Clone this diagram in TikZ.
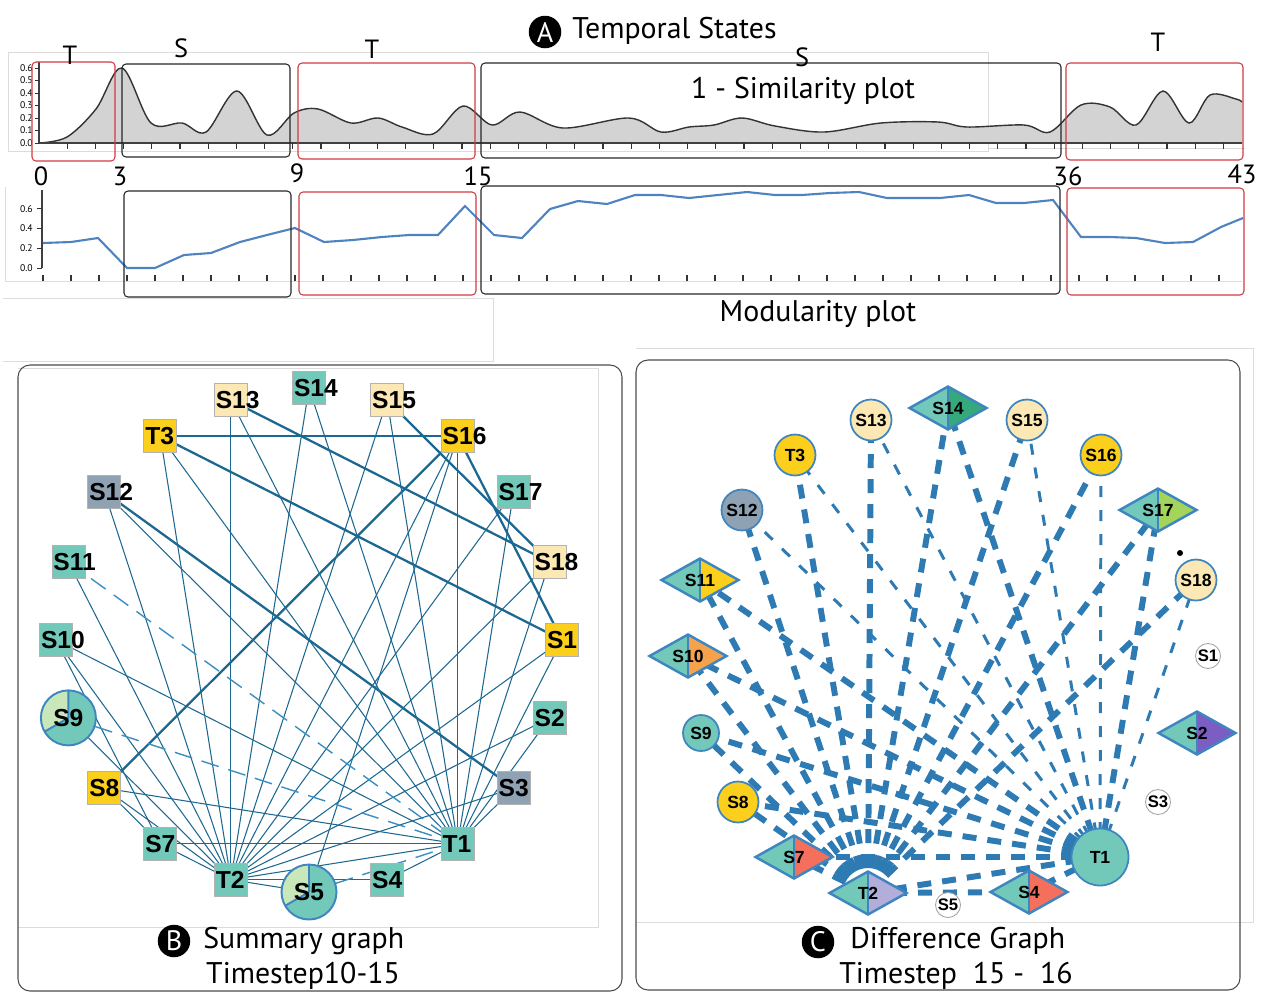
\documentclass[tikz,border=0pt]{standalone}
\usepackage{fontspec}
\setmainfont{PT Sans}
\newfontfamily\nodefont{Liberation Sans}
\usetikzlibrary{shapes.geometric,backgrounds}

\definecolor{cteal}{HTML}{72C9BA}
\definecolor{cgold}{HTML}{FBCF1C}
\definecolor{clyel}{HTML}{FCE8B4}
\definecolor{cgrey}{HTML}{8FA2B4}
\definecolor{cpale}{HTML}{C8E8BA}
\definecolor{cring}{HTML}{3F86C0}
\definecolor{bline}{HTML}{1D6891}
\definecolor{bdashcol}{HTML}{3A8EC2}
\definecolor{cline}{HTML}{2E7BB4}
\definecolor{corange}{HTML}{F6A24C}
\definecolor{cgreen}{HTML}{35A97B}
\definecolor{cgreenl}{HTML}{A3D45B}
\definecolor{cpurple}{HTML}{7C5DC3}
\definecolor{csalmon}{HTML}{F4705C}
\definecolor{clav}{HTML}{B3ADD9}
\definecolor{boxred}{HTML}{D03A42}
\definecolor{simgrey}{HTML}{D3D3D3}
\definecolor{modblue}{HTML}{4F83BF}
\definecolor{faint}{HTML}{DCDCDC}

\begin{document}
\begin{tikzpicture}[x=0.02cm, y=-0.02cm,
    captxt/.style={font=\fontsize{17}{20}\selectfont, inner sep=0},
    lettxt/.style={font=\fontsize{15}{18}\selectfont, inner sep=0},
    ylab/.style={font=\fontsize{5.5}{6}\selectfont, inner sep=0},
    badge/.style={circle, fill=black, text=white, minimum size=0.65cm, inner sep=0, font=\fontsize{16}{16}\selectfont},
    sbox/.style={draw=black!85, line width=0.6pt, rounded corners=0.08cm},
    tbox/.style={draw=boxred, line width=0.6pt, rounded corners=0.08cm},
    bsq/.style={rectangle, draw=gray!60, fill=cteal, minimum size=0.66cm, inner sep=0,
        font=\nodefont\bfseries\fontsize{14}{14}\selectfont},
    bpie/.style={circle, draw=cring, line width=1.1pt, fill=cteal, minimum size=1.1cm, inner sep=0,
        font=\nodefont\bfseries\fontsize{14}{14}\selectfont,
        path picture={
            \fill[cpale] (path picture bounding box.center) -- ++(90:0.6cm)
                arc[start angle=90, end angle=210, radius=0.6cm] -- cycle;
            \draw[cring, line width=1.1pt] (path picture bounding box.center) -- ++(90:0.6cm)
                (path picture bounding box.center) -- ++(210:0.6cm);}},
    bedge/.style={bline, line width=0.6pt},
    bthick/.style={bline, line width=1.3pt},
    bdashed/.style={bdashcol, line width=0.8pt, dash pattern=on 0.36cm off 0.2cm},
    ccirc/.style={circle, draw=cring, line width=1pt, minimum size=0.82cm, inner sep=0,
        font=\nodefont\bfseries\fontsize{10}{10}\selectfont},
    csmall/.style={circle, draw=gray!70, fill=white, line width=0.5pt, minimum size=0.5cm, inner sep=0,
        font=\nodefont\bfseries\fontsize{9.5}{10}\selectfont},
    cdia/.style={diamond, draw=cring, line width=1.4pt, fill=cteal, shape aspect=1.8,
        minimum width=1.56cm, minimum height=0.88cm, inner sep=0,
        font=\nodefont\bfseries\fontsize{10}{10}\selectfont,
        path picture={
            \fill[#1] (path picture bounding box.north) -- (path picture bounding box.east)
                -- (path picture bounding box.south) -- cycle;
            \draw[cring, line width=1.4pt] (path picture bounding box.north) -- (path picture bounding box.south);}},
    cthick/.style={cline, line width=3.4pt, dash pattern=on 0.28cm off 0.22cm},
    cthin/.style={cline, line width=1.7pt, dash pattern=on 0.22cm off 0.26cm}]
\useasboundingbox (0,0) rectangle (1264,992);

% screen-capture frames
\draw[faint] (8,52) rectangle (988,151);
\draw[faint] (988,148) -- (1245,148);
\draw[faint] (5,187) -- (5,281) -- (1242,281);
\draw[faint] (3,298) -- (493,298) -- (493,361) -- (3,361);
\draw[faint] (636,348) -- (1253,348) -- (1253,922) -- (636,922);
\draw[faint] (18,368) -- (598,368) -- (598,927) -- (18,927);

% A: temporal states
\node[badge] (badgeA) at (545,32) {A};
\node[captxt, anchor=west] (capA) at (572,31) {Temporal States};

\fill[simgrey] (39,143) -- plot[smooth, tension=0.55] coordinates {(39,143) (67,137) (96,109) (122,68)
    (151,123) (182,123) (206,132) (237,91) (267,135) (294,113) (318,109) (351,123) (378,118) (402,127)
    (433,134) (463,106) (492,125) (520,112) (563,128) (629,118) (661,132) (689,127) (714,125) (742,118)
    (775,126) (824,132) (881,123) (938,122) (967,127) (1024,125) (1050,132) (1081,105) (1110,107)
    (1136,125) (1163,91) (1189,123) (1210,95) (1236,99) (1242,102)} -- (1242,143) -- cycle;
\draw[black!80, line width=0.8pt] plot[smooth, tension=0.55] coordinates {(39,143) (67,137) (96,109) (122,68)
    (151,123) (182,123) (206,132) (237,91) (267,135) (294,113) (318,109) (351,123) (378,118) (402,127)
    (433,134) (463,106) (492,125) (520,112) (563,128) (629,118) (661,132) (689,127) (714,125) (742,118)
    (775,126) (824,132) (881,123) (938,122) (967,127) (1024,125) (1050,132) (1081,105) (1110,107)
    (1136,125) (1163,91) (1189,123) (1210,95) (1236,99) (1242,102)};
\draw[black!75, line width=0.8pt] (39,143) -- (1242,143);
\draw[black!75, line width=0.6pt] (39,62) -- (39,143);
\foreach \k in {1,...,42}
    \draw[black!80, line width=0.6pt] ({39+28.2*\k},143) -- ({39+28.2*\k},149);
\foreach \k in {0,...,6} {
    \draw[black!80, line width=0.5pt] (35,{143-12.5*\k}) -- (39,{143-12.5*\k});
    \node[ylab, anchor=east] (sy\k) at (33,{143-12.5*\k}) {0.\k};
}

\draw[tbox] (32,62) rectangle (115,161);
\draw[sbox] (122,64) rectangle (290,157);
\draw[tbox] (298,63) rectangle (475,159);
\draw[sbox] (481,63) rectangle (1061,158);
\draw[tbox] (1066,63) rectangle (1243,160);

\node[lettxt] (st1) at (70,55) {T};
\node[lettxt] (st2) at (181,48) {S};
\node[lettxt] (st3) at (372,49) {T};
\node[lettxt] (st4) at (802,57) {S};
\node[lettxt] (st5) at (1158,42) {T};
\node[captxt] (simcap) at (803,91) {1 - Similarity plot};

\node[lettxt] (n0) at (41,176) {0};
\node[lettxt] (n3) at (120,176) {3};
\node[lettxt] (n9) at (297,173) {9};
\node[lettxt] (n15) at (478,176) {15};
\node[lettxt] (n36) at (1068,176) {36};
\node[lettxt] (n43) at (1242,174) {43};

% modularity
\draw[black!75, line width=0.6pt] (42,190) -- (42,268);
\foreach \k/\v in {0/0.0,1/0.2,2/0.4,3/0.6} {
    \draw[black!80, line width=0.5pt] (37,{268-19.7*\k}) -- (42,{268-19.7*\k});
    \node[ylab, anchor=east] (my\k) at (33,{268-19.7*\k}) {\v};
}
\foreach \k in {0,...,42}
    \draw[black!80, line width=0.6pt] ({43+28*\k},281) -- ({43+28*\k},275);
\draw[modblue, line width=1.2pt] plot coordinates {(43,243) (71,242) (98,238) (127,268) (155,268)
    (184,255) (211,253) (240,242) (267,235) (295,228) (324,242) (353,240) (382,237) (409,235) (438,235)
    (465,206) (494,235) (522,238) (550,209) (578,201) (607,204) (635,195) (661,195) (689,198) (718,195)
    (747,192) (775,195) (802,195) (830,193) (859,192) (887,198) (914,198) (940,198) (969,195) (996,203)
    (1024,203) (1053,200) (1081,237) (1110,237) (1136,238) (1165,243) (1193,242) (1221,227) (1243,218)};

\draw[sbox] (124,191) rectangle (291,297);
\draw[tbox] (299,192) rectangle (476,295);
\draw[sbox] (481,186) rectangle (1060,294);
\draw[tbox] (1067,188) rectangle (1244,295);
\node[captxt] (modcap) at (818,314) {Modularity plot};

% B: summary graph
\draw[black!70, line width=0.6pt, rounded corners=0.24cm] (18,365) rectangle (622,991);
\foreach \i/\nm/\col in {0/S14/cteal,1/S15/clyel,2/S16/cgold,3/S17/cteal,4/S18/clyel,5/S1/cgold,
        6/S2/cteal,7/S3/cgrey,8/T1/cteal,9/S4/cteal,11/T2/cteal,12/S7/cteal,13/S8/cgold,
        15/S10/cteal,16/S11/cteal,17/S12/cgrey,18/T3/cgold,19/S13/clyel}
    \node[bsq, fill=\col] (b\nm) at ({309+253*cos(18*\i-90)},{640+252*sin(18*\i-90)}) {\makebox[0.6cm][l]{\nm}};
\foreach \i/\nm in {10/S5,14/S9}
    \node[bpie] (b\nm) at ({309+253*cos(18*\i-90)},{640+252*sin(18*\i-90)}) {\nm};

\begin{pgfonlayer}{background}
\foreach \nm in {S7,S8,S9,S10,S11,S12,T3,S13,S14,S15,S16,S17,S18,S1,S2,S3,T1,S5,S4}
    \draw[bedge] (bT2.center) -- (b\nm.center);
\foreach \nm in {S7,S8,S10,S12,T3,S13,S14,S15,S16,S17,S18,S1,S2,S3,S4}
    \draw[bedge] (bT1.center) -- (b\nm.center);
\foreach \a/\b in {S10/S7,S8/S7,S16/S5}
    \draw[bedge] (b\a.center) -- (b\b.center);
\foreach \a/\b in {T3/S16,T3/S1,S13/S18,S15/S18,S16/S1,S12/S3,S16/S8}
    \draw[bthick] (b\a.center) -- (b\b.center);
\foreach \a in {S11,S9,S5}
    \draw[bdashed] (b\a.center) -- (bT1.center);
\end{pgfonlayer}

\node[badge] (badgeB) at (174,941) {B};
\node[captxt, anchor=west] (capB) at (203,941) {Summary graph};
\node[captxt] (stepB) at (303,976) {Timestep10-15};

% C: difference graph
\draw[black!70, line width=0.6pt, rounded corners=0.24cm] (636,360) rectangle (1240,990);
\foreach \nm/\x/\y/\col in {S15/1027/420/clyel,S16/1101/455/cgold,S18/1196/580/clyel,S8/738/802/cgold,
        S12/742/510/cgrey,T3/795/455/cgold,S13/871/420/clyel}
    \node[ccirc, fill=\col] (c\nm) at (\x,\y) {\nm};
\node[ccirc, fill=cteal, minimum size=0.72cm] (cS9) at (701,733) {S9};
\node[ccirc, fill=cteal, minimum size=1.14cm] (cT1) at (1100,857) {T1};
\foreach \nm/\x/\y/\col in {S14/948/408/cgreen,S17/1158/510/cgreenl,S2/1197/733/cpurple,
        S4/1029/892/csalmon,T2/868/893/clav,S7/794/857/csalmon,S10/688/656/corange,S11/700/580/cgold}
    \node[cdia=\col] (c\nm) at (\x,\y) {\nm};
\foreach \nm/\x/\y in {S1/1208/656,S3/1158/802,S5/948/905}
    \node[csmall] (c\nm) at (\x,\y) {\nm};
\fill[black] (1180,553) circle[radius=0.06cm];

\begin{pgfonlayer}{background}
\foreach \nm in {S7,S8,S9,S10,S11,S12,T3,S13,S14,S15,S16,S17,S18,S4,T1}
    \draw[cthick] (cT2.center) -- (c\nm.center);
\foreach \nm in {S7,S8,S9,S10,S11,S14,S17,S4}
    \draw[cthick] (cT1.center) -- (c\nm.center);
\foreach \nm in {S12,T3,S13,S15,S16,S18}
    \draw[cthin] (cT1.center) -- (c\nm.center);
\end{pgfonlayer}

\node[badge] (badgeC) at (818,942) {C};
\node[captxt, anchor=west] (capC) at (850,941) {Difference Graph};
\node[captxt] (stepC) at (956,976) {Timestep\ \ 15 -\ \ 16};
\end{tikzpicture}
\end{document}
